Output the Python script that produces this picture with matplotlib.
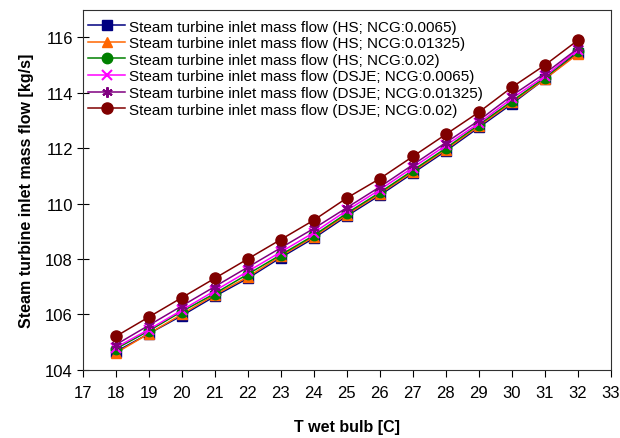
import numpy as np
import matplotlib
matplotlib.use('Agg')
import matplotlib.pyplot as plt

plt.rcParams['font.family'] = ['Liberation Sans', 'DejaVu Sans']

t_wet = [18, 19, 20, 21, 22, 23, 24, 25, 26, 27, 28, 29, 30, 31, 32]

hs_0065 = [104.65, 105.3, 105.95, 106.65, 107.3, 108.05, 108.75, 109.55, 110.3, 111.1, 111.9, 112.75, 113.6, 114.5, 115.45]
hs_01325 = [104.6, 105.3, 106.0, 106.7, 107.35, 108.1, 108.8, 109.6, 110.35, 111.15, 111.95, 112.8, 113.65, 114.5, 115.4]
hs_02 = [104.75, 105.4, 106.1, 106.75, 107.45, 108.15, 108.85, 109.65, 110.4, 111.2, 112.0, 112.85, 113.7, 114.55, 115.5]
dsje_0065 = [104.8, 105.45, 106.15, 106.85, 107.55, 108.25, 108.95, 109.75, 110.5, 111.3, 112.1, 112.9, 113.8, 114.6, 115.55]
dsje_01325 = [104.9, 105.6, 106.3, 107.0, 107.7, 108.4, 109.1, 109.85, 110.6, 111.4, 112.2, 113.0, 113.9, 114.7, 115.6]
dsje_02 = [105.2, 105.9, 106.6, 107.3, 108.0, 108.7, 109.4, 110.2, 110.9, 111.7, 112.5, 113.3, 114.2, 115.0, 115.9]

labels = [
    'Steam turbine inlet mass flow (HS; NCG:0.0065)',
    'Steam turbine inlet mass flow (HS; NCG:0.01325)',
    'Steam turbine inlet mass flow (HS; NCG:0.02)',
    'Steam turbine inlet mass flow (DSJE; NCG:0.0065)',
    'Steam turbine inlet mass flow (DSJE; NCG:0.01325)',
    'Steam turbine inlet mass flow (DSJE; NCG:0.02)',
]
series = [hs_0065, hs_01325, hs_02, dsje_0065, dsje_01325, dsje_02]
colors = ['#000080', '#FF6600', '#008000', '#FF00FF', '#800080', '#800000']
markers = ['s', '^', 'o', 'x', '*', 'o']
msizes = [7, 7.5, 7.5, 7.5, 7.5, 8]

fig = plt.figure(figsize=(6.2, 4.39), dpi=100)
ax = fig.add_axes([0.1334, 0.1556, 0.852, 0.82])

for y, lab, c, m, ms in zip(series, labels, colors, markers, msizes):
    if m == '*':
        # asterisk: x plus a vertical bar
        ax.plot(t_wet, y, color=c, lw=1.1, marker=(6, 2, 0), ms=ms, mew=1.5, label=lab)
    elif m == 'x':
        ax.plot(t_wet, y, color=c, lw=1.1, marker=m, ms=ms, mew=1.5, label=lab)
    else:
        ax.plot(t_wet, y, color=c, lw=1.1, marker=m, ms=ms, mec=c, mfc=c, label=lab)

ax.set_xlim(17, 33)
ax.set_ylim(104, 117)
ax.set_xticks(range(17, 34))
ax.set_yticks(range(104, 117, 2))
ax.tick_params(axis='x', direction='out', length=5, labelsize=12, pad=6)
ax.tick_params(axis='y', direction='inout', length=8, labelsize=12, pad=3)
for s in ax.spines.values():
    s.set_color('#303030')

ax.set_xlabel('T wet bulb [C]', fontsize=11.5, fontweight='bold', labelpad=14)
ax.set_ylabel('Steam turbine inlet mass flow [kg/s]', fontsize=11.5, fontweight='bold', labelpad=8)

ax.legend(loc='upper left', bbox_to_anchor=(-0.008, 1.0), frameon=False, fontsize=11,
          labelspacing=0.17, handlelength=2.4, handletextpad=0.25, borderaxespad=0.45,
          borderpad=0.2)

fig.savefig('out.png', dpi=100)
